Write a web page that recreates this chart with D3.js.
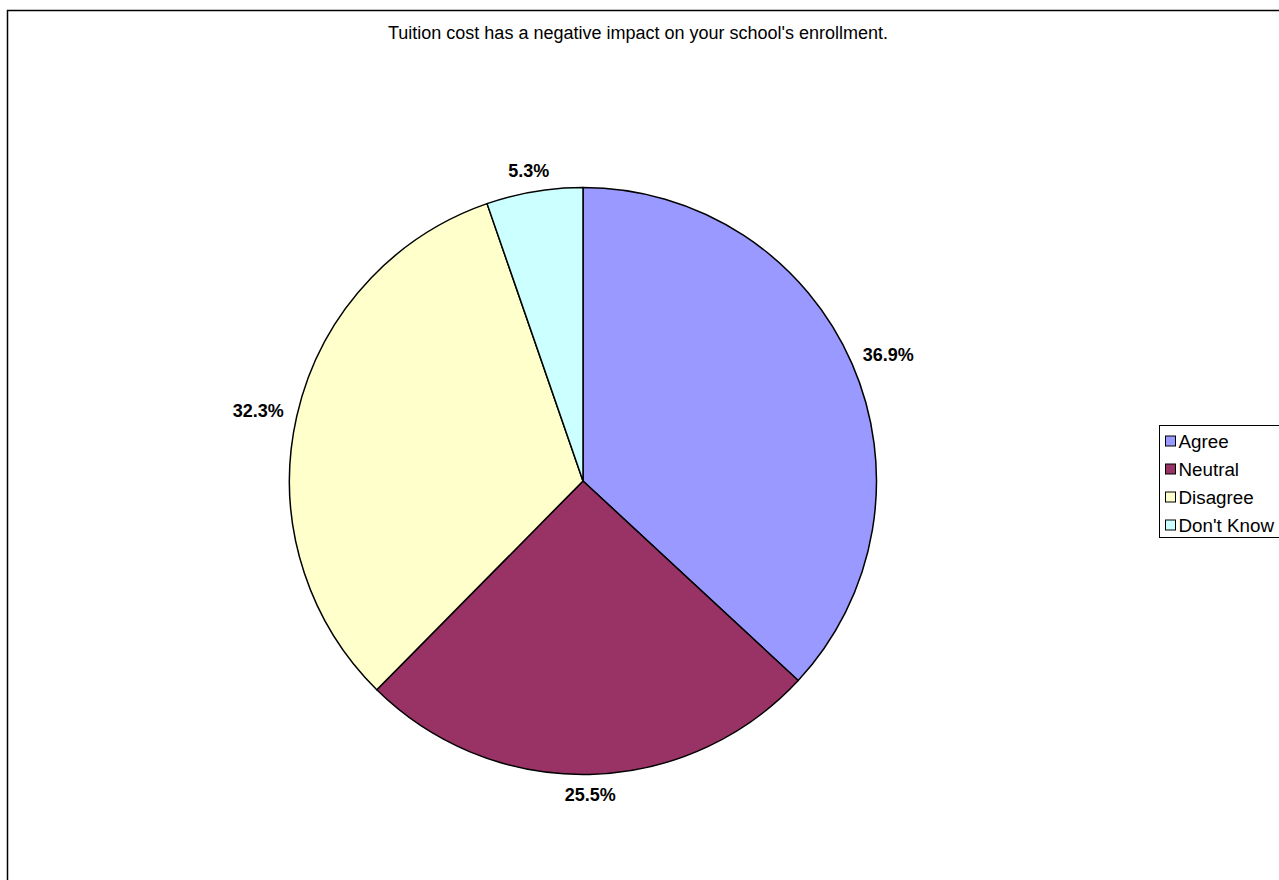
<!DOCTYPE html>
<html>
<head>
<meta charset="utf-8">
<script src="https://cdn.jsdelivr.net/npm/d3@7"></script>
<style>
  html, body { margin: 0; padding: 0; background: #fff; }
  svg { display: block; }
  text { font-family: "Liberation Sans", Arial, sans-serif; }
</style>
</head>
<body>
<svg id="chart" width="1279" height="880"></svg>
<script>
const title = "Tuition cost has a negative impact on your school's enrollment.";
const categories = ["Agree", "Neutral", "Disagree", "Don't Know"];
const values = [36.9, 25.5, 32.3, 5.3];
const colors = ["#9999FF", "#993366", "#FFFFCC", "#CCFFFF"];

const svg = d3.select("#chart");
const W = 1279, H = 880;

// outer frame
svg.append("rect")
  .attr("x", 7.5).attr("y", 10.5)
  .attr("width", W + 10).attr("height", H + 10)
  .attr("fill", "#fff").attr("stroke", "#000").attr("stroke-width", 1.5);

// title
svg.append("text")
  .attr("x", 638).attr("y", 39)
  .attr("text-anchor", "middle")
  .attr("font-size", 18)
  .attr("fill", "#000")
  .text(title);

const cx = 583, cy = 481, R = 293.5;
const data = categories.map((c, i) => ({ cat: c, value: values[i], color: colors[i] }));

const pie = d3.pie().value(d => d.value).sort(null);
const arc = d3.arc().innerRadius(0).outerRadius(R);
const arcs = pie(data);

const g = svg.append("g").attr("transform", `translate(${cx},${cy})`);
g.selectAll("path.slice")
  .data(arcs)
  .join("path")
  .attr("class", "slice")
  .attr("d", arc)
  .attr("fill", d => d.data.color)
  .attr("stroke", "#000")
  .attr("stroke-width", 1.5)
  .attr("stroke-linejoin", "round");

// labels outside end
const gap = 14;
g.selectAll("text.lbl")
  .data(arcs)
  .join("text")
  .attr("class", "lbl")
  .attr("font-size", 18)
  .attr("font-weight", "bold")
  .attr("text-anchor", "middle")
  .attr("dominant-baseline", "central")
  .text(d => d.data.value.toFixed(1) + "%")
  .each(function(d) {
    const a = (d.startAngle + d.endAngle) / 2;
    const bb = this.getBBox();
    const w = bb.width, h = 14;
    const r = R + gap;
    const x = r * Math.sin(a) + (w / 2) * Math.sin(a);
    const y = -r * Math.cos(a) - (h / 2) * Math.cos(a);
    d3.select(this).attr("x", x).attr("y", y);
  });

// legend
const lx = 1159.5, ly = 425.5, rowH = 28;
const legend = svg.append("g");
legend.append("rect")
  .attr("x", lx).attr("y", ly)
  .attr("width", 140).attr("height", 112)
  .attr("fill", "#fff").attr("stroke", "#000").attr("stroke-width", 1);
const items = legend.selectAll("g.item")
  .data(data)
  .join("g")
  .attr("class", "item")
  .attr("transform", (d, i) => `translate(${lx + 6}, ${ly + 15.5 + i * rowH})`);
items.append("rect")
  .attr("x", 0).attr("y", -5)
  .attr("width", 10).attr("height", 10)
  .attr("fill", d => d.color)
  .attr("stroke", "#000").attr("stroke-width", 1);
items.append("text")
  .attr("x", 13).attr("y", 0)
  .attr("dominant-baseline", "central")
  .attr("font-size", 18.8)
  .attr("fill", "#000")
  .text(d => d.cat);
</script>
</body>
</html>
